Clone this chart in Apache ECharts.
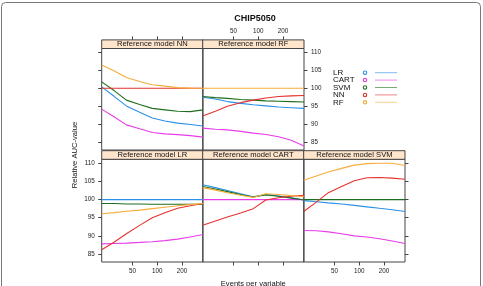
<!DOCTYPE html>
<html>
<head>
<meta charset="utf-8">
<script src="https://cdn.jsdelivr.net/npm/echarts@6/dist/echarts.min.js"></script>
<style>
  html, body { margin: 0; padding: 0; background: #fff; }
  #main { width: 483px; height: 286px; }
</style>
</head>
<body>
<div id="main"></div>
<script>
// events per variable (x) and relative AUC values per reference model panel
var epv = [21, 30, 42, 61, 87, 124, 177, 253, 362];
var models = ['LR', 'CART', 'SVM', 'NN', 'RF'];
var colors = ['#2b90e8', '#e83ce8', '#1f6e1f', '#e63030', '#f5ad3c'];
var xTicks = [50, 100, 200];
var yTicks = [85, 90, 95, 100, 105, 110];

// rows: LR, CART, SVM, NN, RF
var refNN = [
  [100.4, 97.7, 95.1, 93.3, 91.7, 90.9, 90.3, 89.9, 89.5],
  [94.2, 92.0, 89.8, 88.7, 87.7, 87.3, 87.1, 86.8, 86.4],
  [101.8, 99.3, 96.7, 95.5, 94.4, 94.0, 93.6, 93.5, 94.0],
  [100, 100, 100, 100, 100, 100, 100, 100, 100],
  [106.5, 104.8, 103.0, 101.9, 101.0, 100.6, 100.2, 100.05, 100.0]
];
var refRF = [
  [97.5, 97.0, 96.3, 95.8, 95.4, 95.1, 94.8, 94.6, 94.4],
  [88.9, 88.6, 88.4, 88.0, 87.5, 87.1, 86.5, 85.5, 83.9],
  [97.7, 97.4, 97.2, 96.9, 96.7, 96.5, 96.4, 96.3, 96.2],
  [92.3, 93.6, 95.0, 96.0, 96.7, 97.3, 97.7, 97.9, 98.0],
  [100, 100, 100, 100, 100, 100, 100, 100, 100]
];
var refLR = [
  [100, 100, 100, 100, 100, 100, 100, 100, 100],
  [87.8, 87.9, 88.0, 88.2, 88.4, 88.7, 89.1, 89.7, 90.4],
  [98.9, 98.9, 98.8, 98.8, 98.7, 98.7, 98.7, 98.7, 98.7],
  [86.2, 88.3, 90.6, 92.9, 95.0, 96.4, 97.6, 98.3, 98.9],
  [96.1, 96.4, 96.8, 97.1, 97.5, 97.9, 98.3, 98.6, 98.9]
];
var refCART = [
  [104.1, 103.3, 102.5, 101.6, 100.8, 101.4, 101.0, 100.5, 99.9],
  [100, 100, 100, 100, 100, 100, 100, 100, 100],
  [103.6, 102.9, 102.2, 101.4, 100.7, 101.3, 100.9, 100.4, 99.9],
  [92.9, 94.1, 95.2, 96.3, 97.5, 99.9, 100.5, 100.9, 101.2],
  [103.3, 102.6, 101.9, 101.2, 100.6, 101.6, 101.4, 101.1, 100.8]
];
var refSVM = [
  [99.7, 99.4, 99.1, 98.8, 98.4, 98.0, 97.6, 97.2, 96.7],
  [91.5, 91.4, 91.1, 90.6, 90.0, 89.7, 89.2, 88.6, 87.9],
  [100, 100, 100, 100, 100, 100, 100, 100, 100],
  [96.7, 99.3, 101.9, 103.6, 105.2, 106.0, 106.1, 105.9, 105.6],
  [105.3, 106.5, 107.6, 108.6, 109.5, 109.9, 110.0, 110.0, 109.4]
];

// panel layout (lattice style, 3 columns x 2 rows)
var panels = [
  { name: 'NN', data: refNN, col: 0, row: 0, xSide: 'top', xLab: false, ySide: 'left', yLab: false, yShow: true },
  { name: 'RF', data: refRF, col: 1, row: 0, xSide: 'top', xLab: true, ySide: 'right', yLab: true, yShow: true },
  { name: 'LR', data: refLR, col: 0, row: 1, xSide: 'bottom', xLab: true, ySide: 'left', yLab: true, yShow: true },
  { name: 'CART', data: refCART, col: 1, row: 1, xSide: 'bottom', xLab: false, ySide: 'left', yLab: false, yShow: false },
  { name: 'SVM', data: refSVM, col: 2, row: 1, xSide: 'bottom', xLab: true, ySide: 'right', yLab: false, yShow: true }
];
var colLeft = [101.7, 202.7, 303.7];
var colW = 101.3;
var rowTop = [48.5, 159.3];
var rowH = [101.5, 102.7];
var stripH = 8.6;
var font = 'Liberation Sans, Arial, sans-serif';

var grids = [], xAxes = [], yAxes = [], series = [], graphics = [];

panels.forEach(function (p, i) {
  var left = colLeft[p.col], top = rowTop[p.row];
  grids.push({ left: left, top: top, width: colW, height: rowH[p.row],
    show: true, borderColor: '#444', borderWidth: 1, backgroundColor: 'transparent' });

  xAxes.push({
    type: 'value', gridIndex: i, position: p.xSide,
    offset: p.xSide === 'top' ? stripH : 0,
    min: Math.log2(epv[0]), max: Math.log2(epv[epv.length - 1]),
    splitLine: { show: false }, axisLine: { show: false },
    axisTick: { show: true, length: 3.5, lineStyle: { color: '#444' },
      customValues: xTicks.map(function (v) { return Math.log2(v); }) },
    axisLabel: { show: p.xLab, fontSize: 6.3, color: '#222', fontFamily: font, margin: 6,
      customValues: xTicks.map(function (v) { return Math.log2(v); }),
      formatter: function (v) { return Math.round(Math.pow(2, v)); } }
  });

  yAxes.push({
    type: 'value', gridIndex: i, position: p.ySide,
    min: 82.8, max: 111.1,
    splitLine: { show: false }, axisLine: { show: false },
    axisTick: { show: p.yShow, length: 3.5, lineStyle: { color: '#444' }, customValues: yTicks },
    axisLabel: { show: p.yLab, fontSize: 6.3, color: '#222', fontFamily: font, margin: 7,
      customValues: yTicks }
  });

  p.data.forEach(function (vals, m) {
    series.push({
      type: 'line', name: models[m], xAxisIndex: i, yAxisIndex: i,
      data: epv.map(function (e, k) { return [Math.log2(e), vals[k]]; }),
      showSymbol: false, silent: true,
      lineStyle: { width: 1.1, color: colors[m] }, itemStyle: { color: colors[m] }
    });
  });

  // strip
  graphics.push({ type: 'rect', z: 10,
    shape: { x: left, y: top - stripH, width: colW, height: stripH },
    style: { fill: '#ffe5cc', stroke: '#444', lineWidth: 1 } });
  graphics.push({ type: 'text', z: 11, x: left + colW / 2, y: top - stripH / 2,
    style: { text: 'Reference model ' + p.name, fontSize: 7.6, fontFamily: font,
      fill: '#111', align: 'center', verticalAlign: 'middle' } });
});

// legend (key)
models.forEach(function (m, i) {
  var y = 72.7 + i * 7.4;
  graphics.push({ type: 'text', x: 333, y: y,
    style: { text: m, fontSize: 8, fontFamily: font, fill: '#111', align: 'left', verticalAlign: 'middle' } });
  graphics.push({ type: 'circle', shape: { cx: 365, cy: y, r: 1.7 },
    style: { fill: 'none', stroke: colors[i], lineWidth: 1.1 } });
  graphics.push({ type: 'line', shape: { x1: 375, y1: y, x2: 397, y2: y },
    style: { stroke: colors[i], lineWidth: 1, opacity: 0.6 } });
});

// axis titles and outer frame
graphics.push({ type: 'text', x: 253.3, y: 283.5,
  style: { text: 'Events per variable', fontSize: 7.6, fontFamily: font, fill: '#111',
    align: 'center', verticalAlign: 'middle' } });
graphics.push({ type: 'text', x: 75, y: 155, rotation: Math.PI / 2,
  style: { text: 'Relative AUC-value', fontSize: 7.6, fontFamily: font, fill: '#111',
    align: 'center', verticalAlign: 'middle' } });
graphics.push({ type: 'rect', shape: { x: 1.5, y: 2.5, width: 479, height: 320, r: 4 },
  style: { fill: 'none', stroke: '#777', lineWidth: 1 } });

var chart = echarts.init(document.getElementById('main'), null, { renderer: 'canvas' });
chart.setOption({
  animation: false,
  backgroundColor: '#fff',
  title: { text: 'CHIP5050', left: 250, top: 9, textAlign: 'center',
    textStyle: { fontSize: 9, fontWeight: 'bold', color: '#111', fontFamily: font } },
  grid: grids,
  xAxis: xAxes,
  yAxis: yAxes,
  series: series,
  graphic: graphics
});
</script>
</body>
</html>
